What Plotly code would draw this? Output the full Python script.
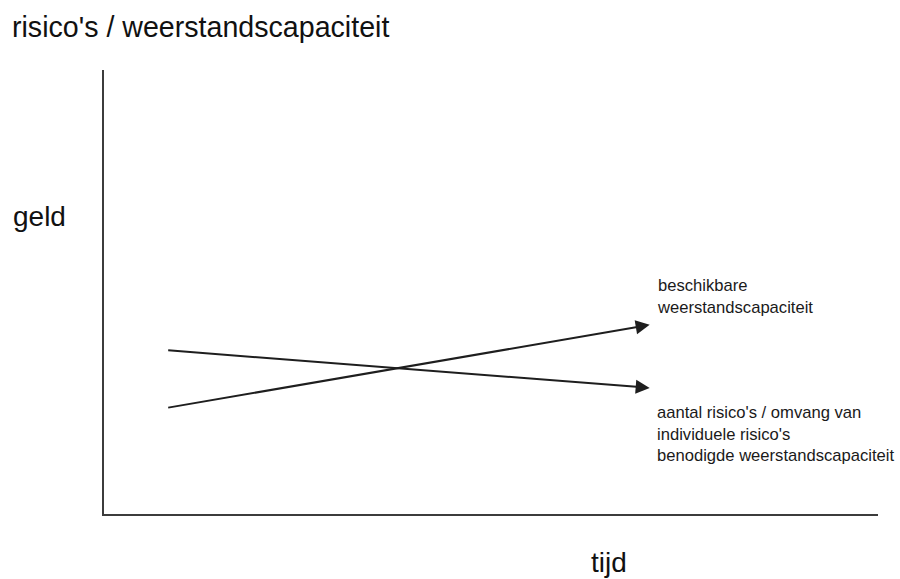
import plotly.graph_objects as go

# Data (schematic values, axis range 0..100)
tijd = [8.1, 70.5]                 # start / end of both arrows
beschikbaar = [23.9, 42.6]         # beschikbare weerstandscapaciteit
benodigd = [36.9, 28.4]            # benodigde weerstandscapaciteit

label_beschikbaar = "beschikbare<br>weerstandscapaciteit"
label_benodigd = "aantal risico's / omvang van<br>individuele risico's<br>benodigde weerstandscapaciteit"
title_text = "risico's / weerstandscapaciteit"
y_label = "geld"
x_label = "tijd"

FONT = "Liberation Sans, Arial, sans-serif"
W, H = 900, 579
L, R, T, B = 104, 22, 70, 65
PW, PH = W - L - R, H - T - B

def px_to_paper(px, py):
    return (px - L) / PW, (H - B - py) / PH

fig = go.Figure()
# invisible trace to establish axes
fig.add_trace(go.Scatter(x=tijd, y=beschikbaar, mode="lines",
                         line=dict(width=0), hoverinfo="skip", showlegend=False))

arrow_color = "#1e1e1e"
for ys in (beschikbaar, benodigd):
    fig.add_annotation(x=tijd[1], y=ys[1], ax=tijd[0], ay=ys[0],
                       xref="x", yref="y", axref="x", ayref="y",
                       text="", showarrow=True, arrowhead=2, arrowsize=1.4,
                       arrowwidth=2, arrowcolor=arrow_color)

small = dict(family=FONT, size=16.6, color="#1a1a1a")
x_lab, _ = px_to_paper(655, 0)
_, y1 = px_to_paper(0, 296.5)
_, y2 = px_to_paper(0, 433.5)
fig.add_annotation(x=x_lab, y=y1, xref="paper", yref="paper", text=label_beschikbaar,
                   showarrow=False, xanchor="left", yanchor="middle", align="left", font=small)
fig.add_annotation(x=x_lab, y=y2, xref="paper", yref="paper", text=label_benodigd,
                   showarrow=False, xanchor="left", yanchor="middle", align="left", font=small)

big = dict(family=FONT, size=28, color="#111111")
gx, gy = px_to_paper(11, 217)
fig.add_annotation(x=gx, y=gy, xref="paper", yref="paper", text=y_label,
                   showarrow=False, xanchor="left", yanchor="middle", font=big)
tx, ty = px_to_paper(609, 562)
fig.add_annotation(x=tx, y=ty, xref="paper", yref="paper", text=x_label,
                   showarrow=False, xanchor="center", yanchor="middle", font=big)

fig.update_layout(
    width=W, height=H,
    margin=dict(l=L, r=R, t=T, b=B),
    paper_bgcolor="white", plot_bgcolor="white",
    title=dict(text=title_text, x=12 / W, xanchor="left", xref="container",
               y=1 - 27 / H, yanchor="middle", yref="container",
               font=dict(family=FONT, size=28.6, color="#111111")),
    xaxis=dict(range=[0, 100], showline=True, linecolor="#3c3c3c", linewidth=2,
               showgrid=False, zeroline=False, showticklabels=False, ticks="",
               fixedrange=True),
    yaxis=dict(range=[0, 100], showline=True, linecolor="#3c3c3c", linewidth=2,
               showgrid=False, zeroline=False, showticklabels=False, ticks="",
               fixedrange=True),
    showlegend=False,
)

fig.write_html("out.html", config={"displayModeBar": False},
               post_script="document.body.style.margin='0';document.body.style.overflow='hidden';")
